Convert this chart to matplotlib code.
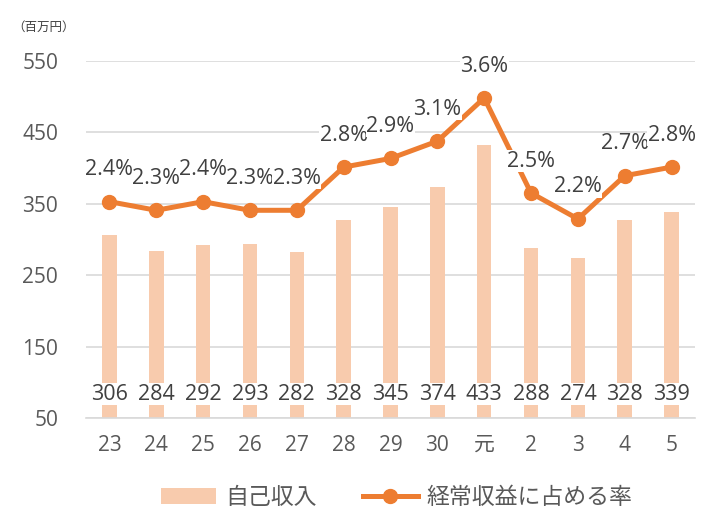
import matplotlib
matplotlib.use("Agg")
import matplotlib.pyplot as plt
from matplotlib.patches import Patch
from matplotlib.lines import Line2D

plt.rcParams['font.family'] = ['Open Sans', 'Noto Sans CJK JP', 'DejaVu Sans']

# Fiscal years (Heisei 23-30, Reiwa 元-5)
years = ["23", "24", "25", "26", "27", "28", "29", "30", "元", "2", "3", "4", "5"]
own_revenue = [306, 284, 292, 293, 282, 328, 345, 374, 433, 288, 274, 328, 339]
ratio_pct = [2.4, 2.3, 2.4, 2.3, 2.3, 2.8, 2.9, 3.1, 3.6, 2.5, 2.2, 2.7, 2.8]
y_ticks = [50, 150, 250, 350, 450, 550]

BAR = "#F8CBAD"
LINE = "#ED7D31"
GRID = "#D9D9D9"
TICK = "#595959"
LABEL = "#404040"

W, H = 711, 514
fig = plt.figure(figsize=(W / 100, H / 100), dpi=100)
ax = fig.add_axes([86 / W, (H - 418) / H, (695 - 86) / W, (418 - 61) / H])

x = list(range(len(years)))
ax.bar(x, [v - 50 for v in own_revenue], bottom=50, width=0.31, color=BAR, zorder=2)
ax.set_xlim(-0.5, len(years) - 0.5)
ax.set_ylim(50, 550)
ax.set_yticks(y_ticks)
ax.set_yticklabels([str(t) for t in y_ticks], fontsize=15, color=TICK)
ax.set_xticks(x)
ax.set_xticklabels(years, fontsize=15, color=TICK)
ax.tick_params(axis="both", length=0)
ax.tick_params(axis="y", pad=20)
ax.tick_params(axis="x", pad=12)
ax.grid(axis="y", color=GRID, linewidth=1.2, zorder=0)
for s in ("top", "right", "left"):
    ax.spines[s].set_visible(False)
ax.spines["bottom"].set_color(GRID)
ax.spines["bottom"].set_linewidth(1.2)
ax.set_axisbelow(True)

for xi, v in zip(x, own_revenue):
    ax.annotate(str(v), (xi, 50), xytext=(0, 17), textcoords="offset points",
                ha="center", va="center", fontsize=15.5, color=LABEL, zorder=4,
                bbox=dict(facecolor="white", edgecolor="none", pad=0.3))

ax2 = ax.twinx()
ax2.set_ylim(-0.104, 4.028)
ax2.plot(x, ratio_pct, color=LINE, linewidth=3.6, marker="o", markersize=10,
         solid_joinstyle="round", zorder=2)
ax2.set_yticks([])
for s in ax2.spines.values():
    s.set_visible(False)
for xi, v in zip(x, ratio_pct):
    ax2.annotate(f"{v:.1f}%", (xi, v), xytext=(0, 23), textcoords="offset points",
                 ha="center", va="center", fontsize=15.5, color=LABEL, zorder=4,
                 bbox=dict(facecolor="white", edgecolor="none", pad=0.3))

fig.text(12 / W, 1 - 27 / H, "（百万円）", fontsize=9, color=LABEL, ha="left", va="center")

handles = [Patch(facecolor=BAR, edgecolor="none"),
           Line2D([0], [0], color=LINE, linewidth=3.6, marker="o", markersize=10)]
fig.legend(handles, ["自己収入", "経常収益に占める率"], loc="center",
           bbox_to_anchor=(397 / W, 1 - 498 / H), ncol=2, frameon=False,
           fontsize=16.5, labelcolor=TICK, handlelength=2.4, columnspacing=2.0,
           handletextpad=0.4)

fig.savefig("out.png", dpi=100)
